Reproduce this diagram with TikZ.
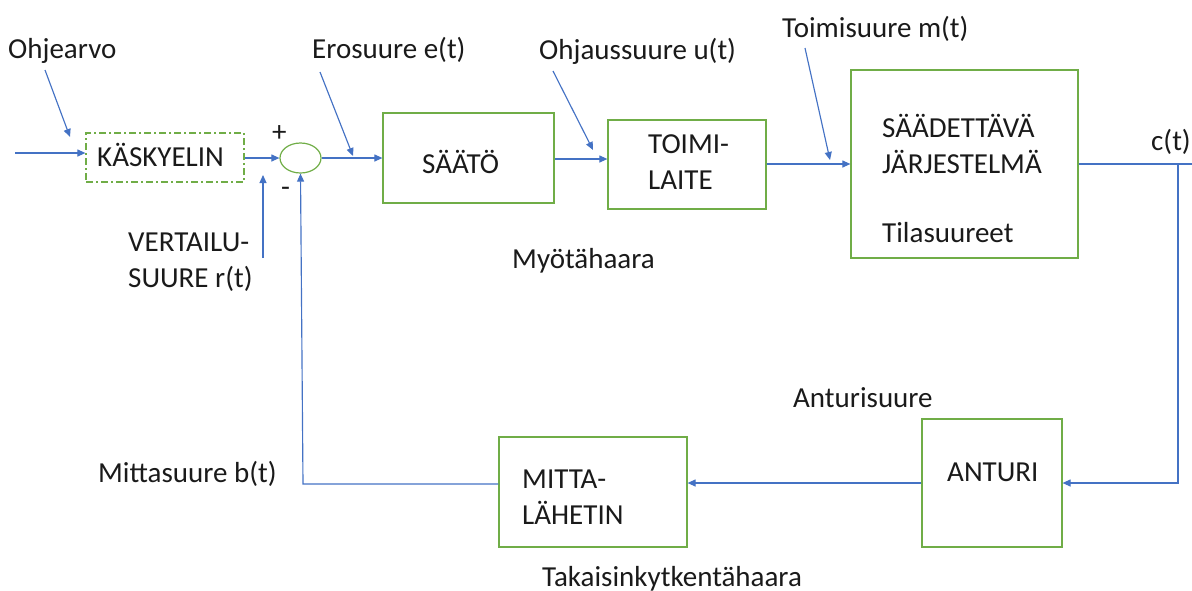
\documentclass[tikz,border=0pt]{standalone}
\usepackage{fontspec}
\setmainfont{Carlito}
\usetikzlibrary{arrows.meta,shapes.geometric}
\definecolor{lblue}{HTML}{4472C4}
\definecolor{lgreen}{HTML}{70AD47}
\definecolor{ink}{HTML}{1A1A1A}
\begin{document}
\begin{tikzpicture}[x=1pt,y=-1pt,
  box/.style={draw=lgreen,line width=1.2pt,rectangle,inner sep=0pt},
  lbl/.style={anchor=base west,inner sep=0pt,text=ink,font=\fontsize{29}{31}\selectfont},
  sig/.style={draw=lblue,line width=1.15pt},
  arr/.style={sig,-{Triangle[length=8pt,width=7pt]}}]
\useasboundingbox (0,0) rectangle (1192,590);
% blocks
\node[box,dash pattern=on 7pt off 3pt on 2pt off 3pt,minimum width=158pt,minimum height=49pt] (kask) at (165,157.5) {};
\node[draw=lgreen,line width=1.2pt,ellipse,minimum width=41pt,minimum height=30pt,inner sep=0pt] (sum) at (300.5,158) {};
\node[box,minimum width=171pt,minimum height=90pt] (saato) at (468.5,158) {};
\node[box,minimum width=158pt,minimum height=89pt] (toimi) at (687,164.5) {};
\node[box,minimum width=227pt,minimum height=188pt] (saad) at (964.5,164) {};
\node[box,minimum width=140pt,minimum height=128pt] (anturi) at (992,483) {};
\node[box,minimum width=188pt,minimum height=110pt] (mitta) at (593,492) {};
% texts
\node[lbl] (tohje) at (8,58) {Ohjearvo};
\node[lbl] (tero) at (312,58) {Erosuure e(t)};
\node[lbl] (tohjaus) at (539,59) {Ohjaussuure u(t)};
\node[lbl] (ttoimis) at (782,37) {Toimisuure m(t)};
\node[lbl] (tc) at (1151,150) {c(t)};
\node[lbl] (tkask) at (97,166) {KÄSKYELIN};
\node[lbl] (tsaato) at (422,173) {SÄÄTÖ};
\node[lbl] (ttoimi1) at (648,153) {TOIMI-};
\node[lbl] (ttoimi2) at (648,189) {LAITE};
\node[lbl] (tsaad1) at (882,137) {SÄÄDETTÄVÄ};
\node[lbl] (tsaad2) at (882,173) {JÄRJESTELMÄ};
\node[lbl] (ttila) at (882,242) {Tilasuureet};
\node[lbl] (tplus) at (272,141) {+};
\node[lbl] (tminus) at (281,196) {-};
\node[lbl] (tvert1) at (128,251) {VERTAILU-};
\node[lbl] (tvert2) at (128,287) {SUURE r(t)};
\node[lbl] (tmyo) at (512,268) {Myötähaara};
\node[lbl] (tant) at (793,407) {Anturisuure};
\node[lbl] (tanturi) at (947,481) {ANTURI};
\node[lbl] (tmitta1) at (522,488) {MITTA-};
\node[lbl] (tmitta2) at (522,524) {LÄHETIN};
\node[lbl] (tmittas) at (98,482) {Mittasuure b(t)};
\node[lbl] (ttak) at (542,586) {Takaisinkytkentähaara};
% coordinates
\coordinate (in) at (15,153);
\coordinate (out) at (1192,164);
\coordinate (branch) at (1178,164);
\coordinate (fbcorner) at (303,484);
\coordinate (vstart) at (263,258);
\coordinate (vend) at (263,175);
\coordinate (a1s) at (45,70);   \coordinate (a1e) at (70,137);
\coordinate (a2s) at (320,72);  \coordinate (a2e) at (353,156);
\coordinate (a3s) at (553,71);  \coordinate (a3e) at (593,150);
\coordinate (a4s) at (805,48);  \coordinate (a4e) at (830,160);
% connectors
\draw[arr] (in) -- (in -| kask.west);
\draw[arr] (kask.east |- sum.west) -- (sum.west);
\draw[arr] (sum.east) -- (saato.west |- sum.east);
\draw[arr] (saato.east |- 0,159) -- (toimi.west |- 0,159);
\draw[arr] (toimi.east |- saad.west) -- (saad.west);
\draw[sig] (saad.east) -- (out);
\draw[arr] (branch) -- (branch |- anturi.east) -- (anturi.east);
\draw[arr] (anturi.west) -- (mitta.east |- anturi.west);
\draw[arr] (mitta.west |- fbcorner) -- (fbcorner) -- (sum.south);
\draw[arr] (vstart) -- (vend);
\draw[arr] (a1s) -- (a1e);
\draw[arr] (a2s) -- (a2e);
\draw[arr] (a3s) -- (a3e);
\draw[arr] (a4s) -- (a4e);
\end{tikzpicture}
\end{document}
